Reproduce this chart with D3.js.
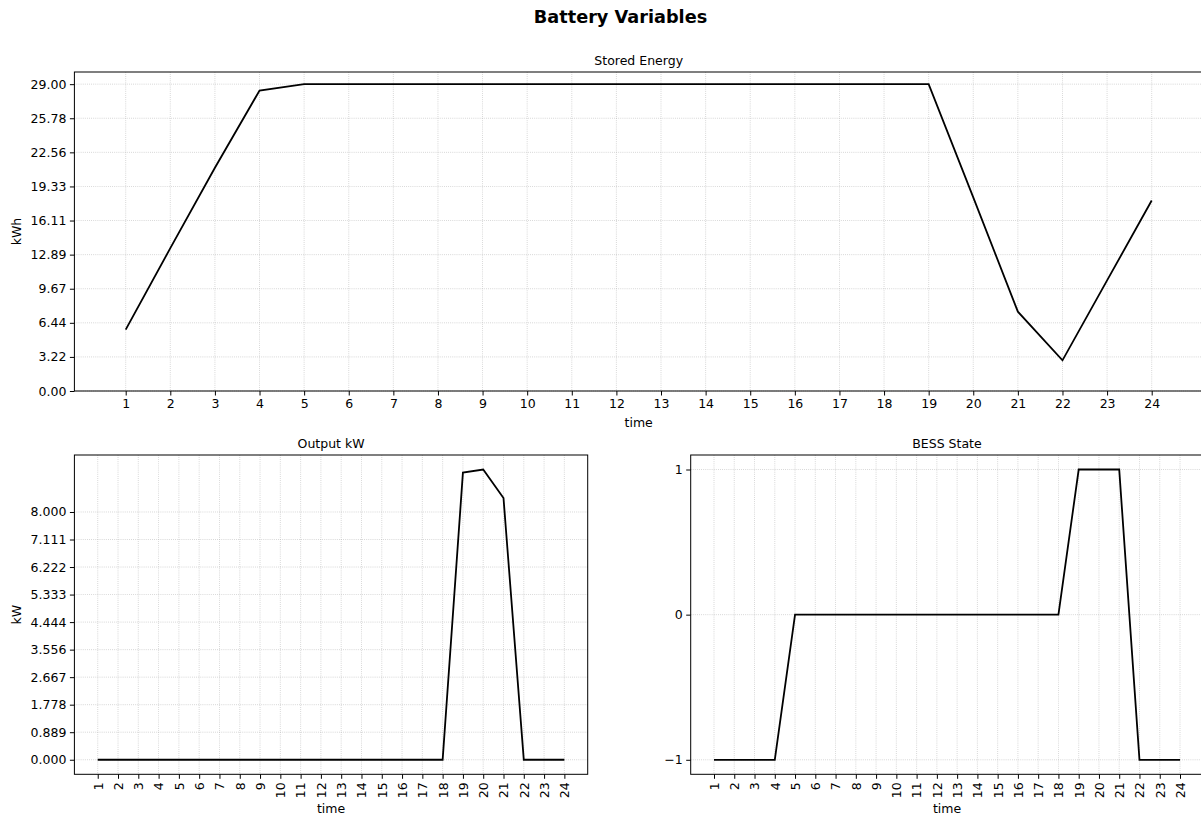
<!DOCTYPE html>
<html><head><meta charset="utf-8">
<script src="https://cdn.jsdelivr.net/npm/d3@7"></script>
<style>
body{margin:0;background:#fff;}
text{font-family:"DejaVu Sans",sans-serif;fill:#000;}
</style></head>
<body><svg id="c" width="1201" height="816"></svg>
<script>
const hours = d3.range(1, 25);
const storedEnergy = [5.8, 13.5, 21.1, 28.4, 29.0, 29.0, 29.0, 29.0, 29.0, 29.0, 29.0, 29.0, 29.0, 29.0, 29.0, 29.0, 29.0, 29.0, 29.0, 18.3, 7.5, 2.9, 10.45, 18.0];
const outputKW = [0,0,0,0,0,0,0,0,0,0,0,0,0,0,0,0,0,0, 9.27, 9.37, 8.45, 0, 0, 0];
const bessState = [-1,-1,-1,-1, 0,0,0,0,0,0,0,0,0,0,0,0,0,0, 1,1,1, -1,-1,-1];
const energyTicks = d3.range(10).map(i => i * 29 / 9);
const outputTicks = d3.range(10).map(i => i * 8 / 9);
const stateTicks = [-1, 0, 1];

const svg = d3.select("#c");
const FS = 12.5;

svg.append("text").attr("x", 620.5).attr("y", 22.5).attr("text-anchor", "middle")
  .style("font-size", "17.7px").style("font-weight", "bold").text("Battery Variables");

function panel(o) {
  const x = d3.scaleLinear().domain([-0.15, 25.15]).range([o.left, o.right]);
  const y = d3.scaleLinear().domain(o.ydom).range([o.bottom, o.top]);
  const g = svg.append("g");
  g.selectAll(".gx").data(hours).enter().append("line")
    .attr("x1", d => x(d)).attr("x2", d => x(d)).attr("y1", o.top).attr("y2", o.bottom)
    .attr("stroke", "#b0b0b0").attr("stroke-width", 0.8).attr("stroke-dasharray", "0.8,1.3").attr("opacity", 0.75);
  g.selectAll(".gy").data(o.yticks).enter().append("line")
    .attr("y1", d => y(d)).attr("y2", d => y(d)).attr("x1", o.left).attr("x2", o.right)
    .attr("stroke", "#b0b0b0").attr("stroke-width", 0.8).attr("stroke-dasharray", "0.8,1.3").attr("opacity", 0.75);
  const line = d3.line().x((d, i) => x(hours[i])).y(d => y(d));
  g.append("path").datum(o.data).attr("d", line).attr("fill", "none")
    .attr("stroke", "#000").attr("stroke-width", 1.8).attr("stroke-linejoin", "miter");
  g.append("rect").attr("x", o.left).attr("y", o.top).attr("width", o.right - o.left).attr("height", o.bottom - o.top)
    .attr("fill", "none").attr("stroke", "#000").attr("stroke-width", 1);
  const ya = g.append("g").attr("transform", `translate(${o.left},0)`)
    .call(d3.axisLeft(y).tickValues(o.yticks).tickFormat(o.yfmt).tickSize(4.5).tickPadding(3.5));
  ya.select(".domain").remove();
  ya.selectAll("text").style("font-size", FS + "px").style("font-family", "DejaVu Sans");
  const xa = g.append("g").attr("transform", `translate(0,${o.bottom})`)
    .call(d3.axisBottom(x).tickValues(hours).tickFormat(d3.format("d")).tickSize(4.5).tickPadding(3.5));
  xa.select(".domain").remove();
  xa.selectAll("text").style("font-size", FS + "px").style("font-family", "DejaVu Sans");
  if (o.rotate) {
    xa.selectAll("text").attr("transform", "rotate(-90)").attr("text-anchor", "end")
      .attr("x", -8).attr("y", 0).attr("dy", "0.35em");
  }
  svg.append("text").attr("x", (o.left + o.right) / 2).attr("y", o.top - 7).attr("text-anchor", "middle")
    .style("font-size", FS + "px").text(o.title);
  svg.append("text").attr("x", (o.left + o.right) / 2).attr("y", o.xlabY).attr("text-anchor", "middle")
    .style("font-size", FS + "px").text("time");
  if (o.ylabel) {
    svg.append("text").attr("transform", `translate(${o.ylabX},${(o.top + o.bottom) / 2}) rotate(-90)`)
      .attr("text-anchor", "middle").style("font-size", FS + "px").text(o.ylabel);
  }
}

panel({left: 74.4, right: 1203, top: 72, bottom: 391, ydom: [0, 30.15], yticks: energyTicks,
  yfmt: d3.format(".2f"), data: storedEnergy, title: "Stored Energy", xlabY: 427, ylabel: "kWh", ylabX: 21, rotate: false});
panel({left: 74.4, right: 587.7, top: 455, bottom: 774.3, ydom: [-0.47, 9.84], yticks: outputTicks,
  yfmt: d3.format(".3f"), data: outputKW, title: "Output kW", xlabY: 813, ylabel: "kW", ylabX: 21, rotate: true});
panel({left: 690.7, right: 1203.3, top: 455, bottom: 774.3, ydom: [-1.1, 1.1], yticks: stateTicks,
  yfmt: d => d < 0 ? "\u2212" + Math.abs(d) : String(d), data: bessState, title: "BESS State", xlabY: 813, ylabel: null, rotate: true});
</script></body></html>
